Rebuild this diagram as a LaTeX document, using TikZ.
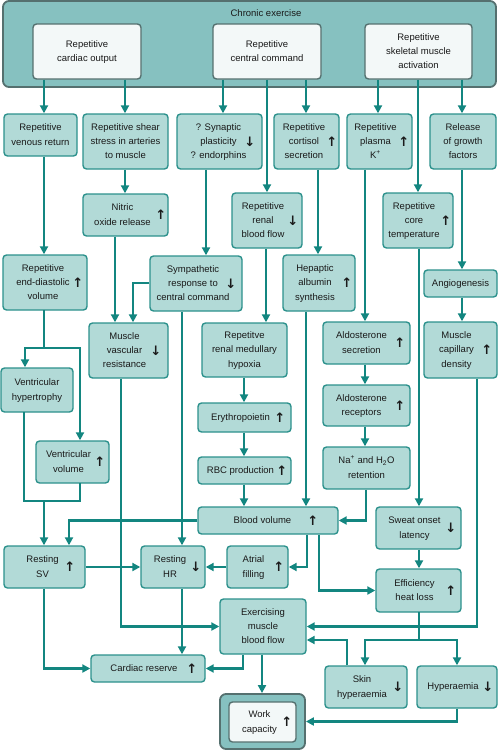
\documentclass[tikz,border=0pt]{standalone}
\usepackage{fontspec}
\setmainfont{Liberation Sans}
\newfontfamily\arrfont{DejaVu Sans}
\usetikzlibrary{arrows.meta}
\definecolor{lc}{HTML}{138680}
\definecolor{bf}{HTML}{B2DAD7}
\definecolor{bb}{HTML}{2C918C}
\definecolor{of}{HTML}{86C1C0}
\definecolor{ob}{HTML}{55706F}
\definecolor{wf}{HTML}{F3F8F8}
\definecolor{tc}{HTML}{1A1A1A}
\newcommand\tx[1]{{\renewcommand\arraystretch{1}\begin{tabular}{@{}c@{}}#1\end{tabular}}}
\newcommand\ta[2][8pt]{\tx{#2}\hspace{#1}}
\newcommand\B[7][bx]{\node[#1,minimum width={(#5)-(#3)},minimum height={(#6)-(#4)}] (#2) at ({((#3)+(#5))/2},{((#4)+(#6))/2}) {#7};}
\newcommand\A[3]{\node[arr] (#1-a) at ([xshift={-(#2)}]#1.east) {#3};}
\newcommand\up{{\arrfont\bfseries ↑}}
\newcommand\dn{{\arrfont\bfseries ↓}}
\begin{document}
\begin{tikzpicture}[x=1pt,y=-1pt,font=\fontsize{9.5}{14.3}\selectfont,
  bx/.style={draw=bb,fill=bf,line width=1.4pt,rounded corners=3.5pt,inner sep=1pt,align=center,text=tc},
  wbx/.style={draw=ob,fill=wf,line width=1.4pt,rounded corners=3.5pt,inner sep=1pt,align=center,text=tc},
  obx/.style={draw=ob,fill=of,line width=1.8pt,rounded corners=6pt,inner sep=0pt},
  arr/.style={inner sep=0pt,text=tc,font=\fontsize{13}{13}\selectfont},
  ar/.style={draw=lc,line width=2.4pt,-{Triangle[length=8pt,width=8pt]}},
  ln/.style={draw=lc,line width=2.4pt,line cap=rect}]
\useasboundingbox (0,0) rectangle (498,750);
% top block
\B[obx]{ce}{3}{1}{496}{87}{}
\node[text=tc,inner sep=0pt] (ce-t) at (266,13) {Chronic exercise};
\B[wbx]{co}{33}{24}{141}{79}{\tx{Repetitive\\cardiac output}}
\B[wbx]{cc}{213}{24}{321}{79}{\tx{Repetitive\\central command}}
\B[wbx]{sk}{365}{24}{472}{79}{\tx{Repetitive\\skeletal muscle\\activation}}
% row 2
\B{vr}{4}{114}{77}{156}{\tx{Repetitive\\venous return}}
\B{ss}{83}{114}{168}{169}{\tx{Repetitive shear\\stress in arteries\\to muscle}}
\B{syn}{177}{114}{262}{169}{\tx{? Synaptic\\plasticity\\? endorphins}\hspace{2pt}}
\A{syn}{13}{\dn}
\B{cort}{274}{114}{339}{169}{\ta[5pt]{Repetitive\\cortisol\\secretion}}
\A{cort}{8}{\up}
\B{k}{347}{114}{412}{169}{\ta{Repetitive\\plasma\\K\textsuperscript{+}}}
\A{k}{9}{\up}
\B{gf}{430}{114}{496}{169}{\tx{Release\\of growth\\factors}}
% row 3
\B{no}{83}{194}{168}{236}{\ta[6pt]{Nitric\\oxide release}}
\A{no}{8}{\up}
\B{rbf}{232}{193}{302}{248}{\ta[8pt]{Repetitive\\renal\\blood flow}}
\A{rbf}{10}{\dn}
\B{core}{383}{193}{453}{248}{\ta[8pt]{Repetitive\\core\\temperature}}
\A{core}{8}{\up}
% row 4
\B{edv}{3}{255}{87}{310}{\ta[4pt]{Repetitive\\end-diastolic\\volume}}
\A{edv}{10}{\up}
\B{sy}{150}{256}{242}{311}{\ta[6pt]{Sympathetic\\response to\\central command}}
\A{sy}{12}{\dn}
\B{hep}{283}{255}{355}{311}{\ta[8pt]{Hepaptic\\albumin\\synthesis}}
\A{hep}{9}{\up}
\B{ang}{424}{270}{497}{297}{\tx{Angiogenesis}}
% row 5
\B{mvr}{89}{323}{168}{378}{\ta[8pt]{Muscle\\vascular\\resistance}}
\A{mvr}{13}{\dn}
\B{hyp}{202}{323}{287}{377}{\tx{Repetitve\\renal medullary\\hypoxia}}
\B{ald}{323}{322}{410}{364}{\ta[10pt]{Aldosterone\\secretion}}
\A{ald}{11}{\up}
\B{mcd}{424}{322}{497}{378}{\ta[8pt]{Muscle\\capillary\\density}}
\A{mcd}{11}{\up}
% middle
\B{vh}{1}{368}{73}{412}{\tx{Ventricular\\hypertrophy}}
\B{rec}{323}{385}{410}{426}{\ta[10pt]{Aldosterone\\receptors}}
\A{rec}{11}{\up}
\B{ery}{198}{403}{291}{432}{\ta[8pt]{Erythropoietin}}
\A{ery}{12}{\up}
\B{vv}{36}{441}{109}{483}{\ta[8pt]{Ventricular\\volume}}
\A{vv}{10}{\up}
\B{ret}{323}{447}{410}{489}{\tx{Na\textsuperscript{+} and H\textsubscript{2}O\\retention}}
\B{rbc}{198}{457}{291}{484}{\ta[8pt]{RBC production}}
\A{rbc}{10}{\up}
\B{bv}{198}{507}{338}{534}{\ta[11pt]{Blood volume}}
\A{bv}{26}{\up}
\B{sweat}{376}{507}{461}{549}{\ta[8pt]{Sweat onset\\latency}}
\A{sweat}{11}{\dn}
% lower
\B{sv}{4}{546}{85}{588}{\ta[4pt]{Resting\\SV}}
\A{sv}{16}{\up}
\B{hr}{141}{546}{205}{588}{\ta[6pt]{Resting\\HR}}
\A{hr}{10}{\dn}
\B{af}{227}{546}{288}{588}{\ta[8pt]{Atrial\\filling}}
\A{af}{10}{\up}
\B{eff}{376}{569}{461}{612}{\ta[8pt]{Efficiency\\heat loss}}
\A{eff}{11}{\up}
\B{embf}{220}{599}{306}{654}{\tx{Exercising\\muscle\\blood flow}}
\B{cr}{91}{655}{205}{682}{\ta[8pt]{Cardiac reserve}}
\A{cr}{14}{\up}
\B{sh}{325}{666}{407}{708}{\ta[8pt]{Skin\\hyperaemia}}
\A{sh}{10}{\dn}
\B{hy}{417}{666}{497}{708}{\ta[8pt]{Hyperaemia}}
\A{hy}{10}{\dn}
\B[obx]{wco}{220}{694}{305}{749}{}
\B[wbx]{wc}{229}{702}{296}{742}{\ta[6pt]{Work\\capacity}}
\A{wc}{10}{\up}
% connectors from top
\draw[ar] (co.south -| 44,0) -- (vr.north -| 44,0);
\draw[ar] (co.south -| 125,0) -- (ss.north -| 125,0);
\draw[ar] (cc.south -| 223,0) -- (syn.north -| 223,0);
\draw[ar] (cc.south -| 267,0) -- (rbf.north -| 267,0);
\draw[ar] (cc.south -| 306,0) -- (cort.north -| 306,0);
\draw[ar] (sk.south -| 378,0) -- (k.north -| 378,0);
\draw[ar] (sk.south -| 418,0) -- (core.north -| 418,0);
\draw[ar] (sk.south -| 462,0) -- (gf.north -| 462,0);
% second level
\draw[ar] (ss.south -| 125,0) -- (no.north -| 125,0);
\draw[ar] (syn.south -| 206,0) -- (sy.north -| 206,0);
\draw[ar] (cort.south -| 318,0) -- (hep.north -| 318,0);
\draw[ar] (k.south -| 365,0) -- (ald.north -| 365,0);
\draw[ar] (gf.south -| 462,0) -- (ang.north -| 462,0);
\draw[ar] (vr.south -| 44,0) -- (edv.north -| 44,0);
\draw[ar] (no.south -| 115,0) -- (mvr.north -| 115,0);
\draw[ar] (sy.west |- 0,283) -| (mvr.north -| 133,0);
\draw[ar] (rbf.south -| 266,0) -- (hyp.north -| 266,0);
\draw[ar] (ang.south -| 462,0) -- (mcd.north -| 462,0);
\draw[ar] (ald.south -| 365,0) -- (rec.north -| 365,0);
\draw[ar] (rec.south -| 365,0) -- (ret.north -| 365,0);
\draw[ar] (hyp.south -| 244,0) -- (ery.north -| 244,0);
\draw[ar] (ery.south -| 244,0) -- (rbc.north -| 244,0);
\draw[ar] (rbc.south -| 244,0) -- (bv.north -| 244,0);
\draw[ar] (hep.south -| 306,0) -- (bv.north -| 306,0);
\draw[ar] (ret.south -| 366,0) |- (bv.east);
\draw[ar] (core.south -| 419,0) -- (sweat.north -| 419,0);
\draw[ar] (sweat.south -| 419,0) -- (eff.north -| 419,0);
% left branch
\coordinate (j1) at (44,348);
\draw[ln] (edv.south -| j1) -- (j1);
\draw[ar] (j1) -| (vh.north -| 25,0);
\draw[ar] (j1) -| (vv.north -| 80,0);
\coordinate (j2) at (44,501);
\draw[ln] (vh.south -| 24,0) |- (j2);
\draw[ln] (vv.south -| 80,0) |- (j2);
\draw[ar] (j2) -- (sv.north -| j2);
\draw[ar] (bv.west) -| (sv.north -| 69,0);
\draw[ar] (sy.south -| 182,0) -- (hr.north -| 182,0);
\draw[ar] (mvr.south -| 121,0) |- (embf.west);
\draw[ar] (sv.east) -- (hr.west);
\draw[ar] (af.west) -- (hr.east);
\draw[ar] (bv.south -| 307,0) |- (af.east);
\draw[ar] (bv.south -| 319,0) |- (eff.west);
\draw[ar] (hr.south -| 182,0) -- (cr.north -| 182,0);
\draw[ar] (sv.south -| 44,0) |- (cr.west);
\draw[ar] (embf.south -| 243,0) |- (cr.east);
\draw[ar] (embf.south -| 262,0) -- (wco.north -| 262,0);
% right branch
\coordinate (j3) at (419,640);
\draw[ln] (eff.south -| j3) -- (j3);
\draw[ar] (j3) -| (sh.north -| 365,0);
\draw[ar] (j3) -| (hy.north -| 457,0);
\draw[ar] (mcd.south -| 477,0) |- (embf.east);
\draw[ar] (sh.north -| 347,0) |- (embf.east |- 0,640);
\draw[ar] (hy.south -| 457,0) |- (wco.east);
\end{tikzpicture}
\end{document}
